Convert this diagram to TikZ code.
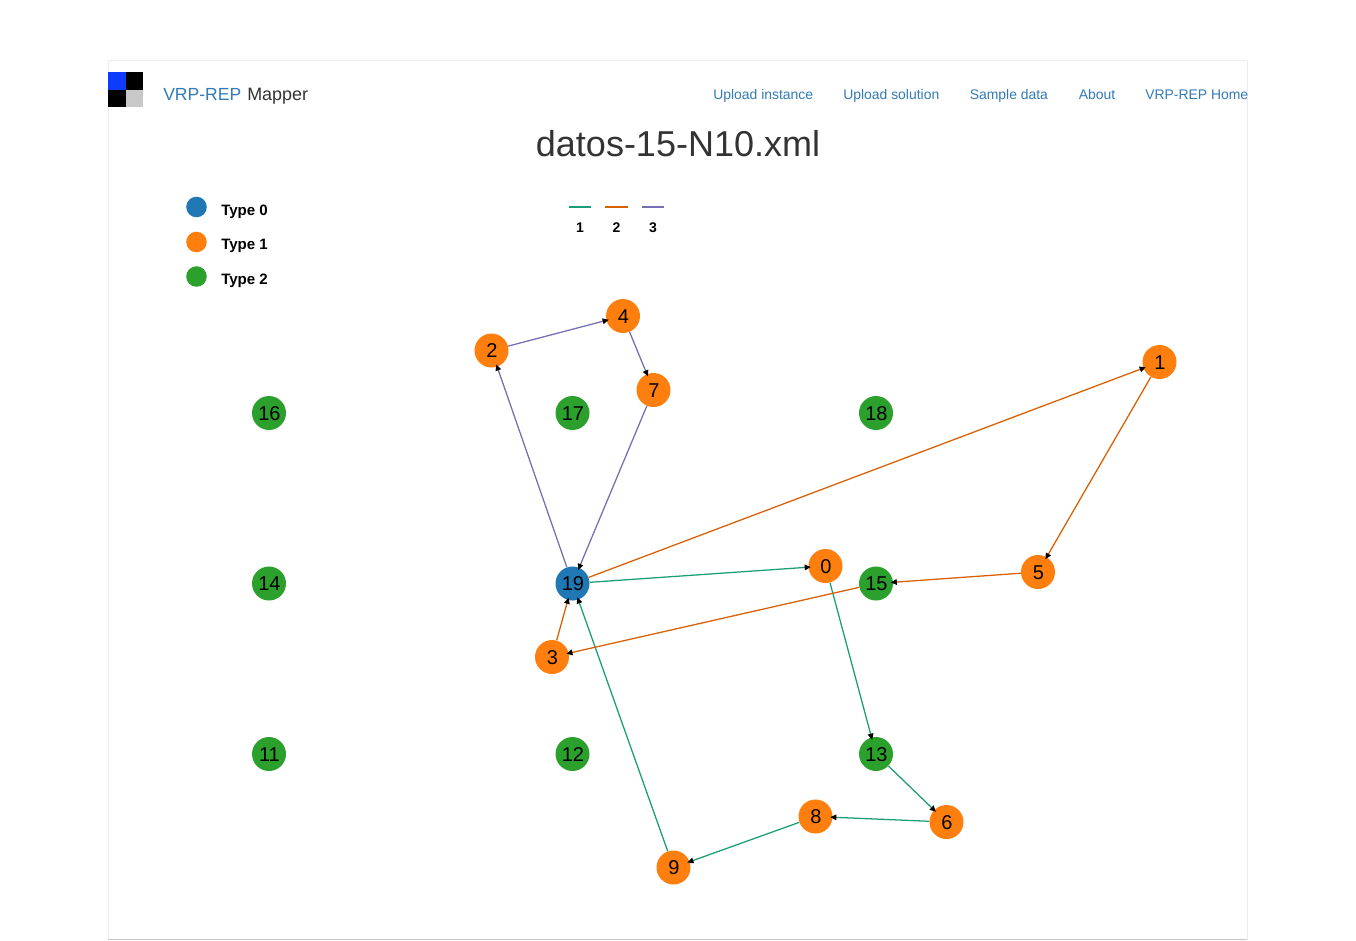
\documentclass[tikz,border=0pt]{standalone}
\usepackage{fontspec}
\setmainfont{Liberation Sans}
\usetikzlibrary{arrows.meta}
\definecolor{linkblue}{HTML}{337AB7}
\definecolor{darktext}{HTML}{333333}
\definecolor{tzero}{HTML}{1F77B4}
\definecolor{tone}{HTML}{FF7F0E}
\definecolor{ttwo}{HTML}{2CA02C}
\definecolor{eone}{HTML}{1B9E77}
\definecolor{etwo}{HTML}{D95F02}
\definecolor{ethree}{HTML}{7570B3}
\definecolor{logoblue}{HTML}{0F3BFF}
\definecolor{logogray}{HTML}{C8C8C8}
\tikzset{
 x=0.75pt,y=-0.75pt,
 vert/.style={circle,minimum size=25.5pt,inner sep=0pt,text=black,font=\fontsize{15}{18}\selectfont,text height=11.2pt,text depth=0pt,execute at begin node=\hspace*{0.7pt}},
 vzero/.style={vert,fill=tzero},
 vone/.style={vert,fill=tone},
 vtwo/.style={vert,fill=ttwo},
 edge/.style={line width=0.95pt,-{Triangle[length=4.6pt,width=4.2pt,color=black]},shorten >=-1.9pt},
 eg/.style={edge,draw=eone},
 eo/.style={edge,draw=etwo},
 ep/.style={edge,draw=ethree},
 navlink/.style={text=linkblue,font=\fontsize{10.45}{13}\selectfont,inner sep=0pt},
 legdot/.style={circle,minimum size=15.4pt,inner sep=0pt},
 legtext/.style={anchor=west,inner sep=0pt,font=\fontsize{11.3}{13}\selectfont\bfseries,text=black},
 legnum/.style={inner sep=0pt,font=\fontsize{10.5}{13}\selectfont\bfseries,text=black},
 legline/.style={line width=0.8pt},
 frameline/.style={draw=#1,line width=0.75pt},
}
\begin{document}
\begin{tikzpicture}
\useasboundingbox (0,0) rectangle (1356,940);
\fill[white] (0,0) rectangle (1356,940);
% frame
\draw[frameline=black!7] (108.5,939) -- (108.5,60.5) -- (1247.5,60.5) -- (1247.5,940);
\draw[frameline=black!22] (108,939.5) -- (1247,939.5);
% logo
\fill[logoblue] (108,72) rectangle (125.5,89.5);
\fill[black] (125.5,72) rectangle (143,89.5);
\fill[black] (108,89.5) rectangle (125.5,107);
\fill[logogray] (125.5,89.5) rectangle (143,107);
% header text
\node[anchor=base west,inner sep=0pt,text=linkblue,font=\fontsize{13.15}{16}\selectfont] (brand) at (163,100) {VRP-REP};
\node[anchor=base west,inner sep=0pt,text=darktext,font=\fontsize{13.45}{16}\selectfont] (brandb) at (247,100) {Mapper};
\node[navlink,anchor=base west] (n1) at (713,99) {Upload instance};
\node[navlink,anchor=base west] (n2) at (843,99) {Upload solution};
\node[navlink,anchor=base west] (n3) at (969.5,99) {Sample data};
\node[navlink,anchor=base west] (n4) at (1078.5,99) {About};
\node[navlink,anchor=base west] (n5) at (1145,99) {VRP-REP Home};
\node[inner sep=0pt,anchor=base,text=darktext,font=\fontsize{27}{32}\selectfont] (title) at (678,156) {datos-15-N10.xml};
% legend types
\node[legdot,fill=tzero] (l0) at (196.5,207) {};
\node[legdot,fill=tone] (l1) at (196.5,242) {};
\node[legdot,fill=ttwo] (l2) at (196.5,276.5) {};
\node[legtext] (t0) at (221,211.5) {Type 0};
\node[legtext] (t1) at (221,245.5) {Type 1};
\node[legtext] (t2) at (221,280.5) {Type 2};
% legend lines
\coordinate (a1) at (569,207); \coordinate (b1) at (591,207);
\coordinate (a2) at (605,207); \coordinate (b2) at (627.5,207);
\coordinate (a3) at (641.5,207); \coordinate (b3) at (664,207);
\draw[legline,draw=eone] (a1) -- (b1);
\draw[legline,draw=etwo] (a2) -- (b2);
\draw[legline,draw=ethree] (a3) -- (b3);
\node[legnum] (k1) at (580,228) {1};
\node[legnum] (k2) at (616.5,228) {2};
\node[legnum] (k3) at (653,228) {3};
% vertices
\node[vzero] (v19) at (572.5,583.5) {19};
\node[vone] (v0) at (825.5,566) {0};
\node[vone] (v1) at (1159.5,362) {1};
\node[vone] (v2) at (491.5,350.5) {2};
\node[vone] (v3) at (552,657) {3};
\node[vone] (v4) at (623,316) {4};
\node[vone] (v5) at (1038,572) {5};
\node[vone] (v6) at (946.5,822) {6};
\node[vone] (v7) at (653.5,390) {7};
\node[vone] (v8) at (815.5,816.5) {8};
\node[vone] (v9) at (673.5,867.5) {9};
\node[vtwo] (v11) at (269,754) {11};
\node[vtwo] (v12) at (572.5,754) {12};
\node[vtwo] (v13) at (876,754) {13};
\node[vtwo] (v14) at (269,583.5) {14};
\node[vtwo] (v15) at (876,583.5) {15};
\node[vtwo] (v16) at (269,413) {16};
\node[vtwo] (v17) at (572.5,413) {17};
\node[vtwo] (v18) at (876,413) {18};
% edges
\draw[eg] (v19) -- (v0);
\draw[eg] (v0) -- (v13);
\draw[eg] (v13) -- (v6);
\draw[eg] (v6) -- (v8);
\draw[eg] (v8) -- (v9);
\draw[eg] (v9) -- (v19);
\draw[eo] (v19) -- (v1);
\draw[eo] (v1) -- (v5);
\draw[eo] (v5) -- (v15);
\draw[eo] (v15) -- (v3);
\draw[eo] (v3) -- (v19);
\draw[ep] (v19) -- (v2);
\draw[ep] (v2) -- (v4);
\draw[ep] (v4) -- (v7);
\draw[ep] (v7) -- (v19);
\end{tikzpicture}
\end{document}
